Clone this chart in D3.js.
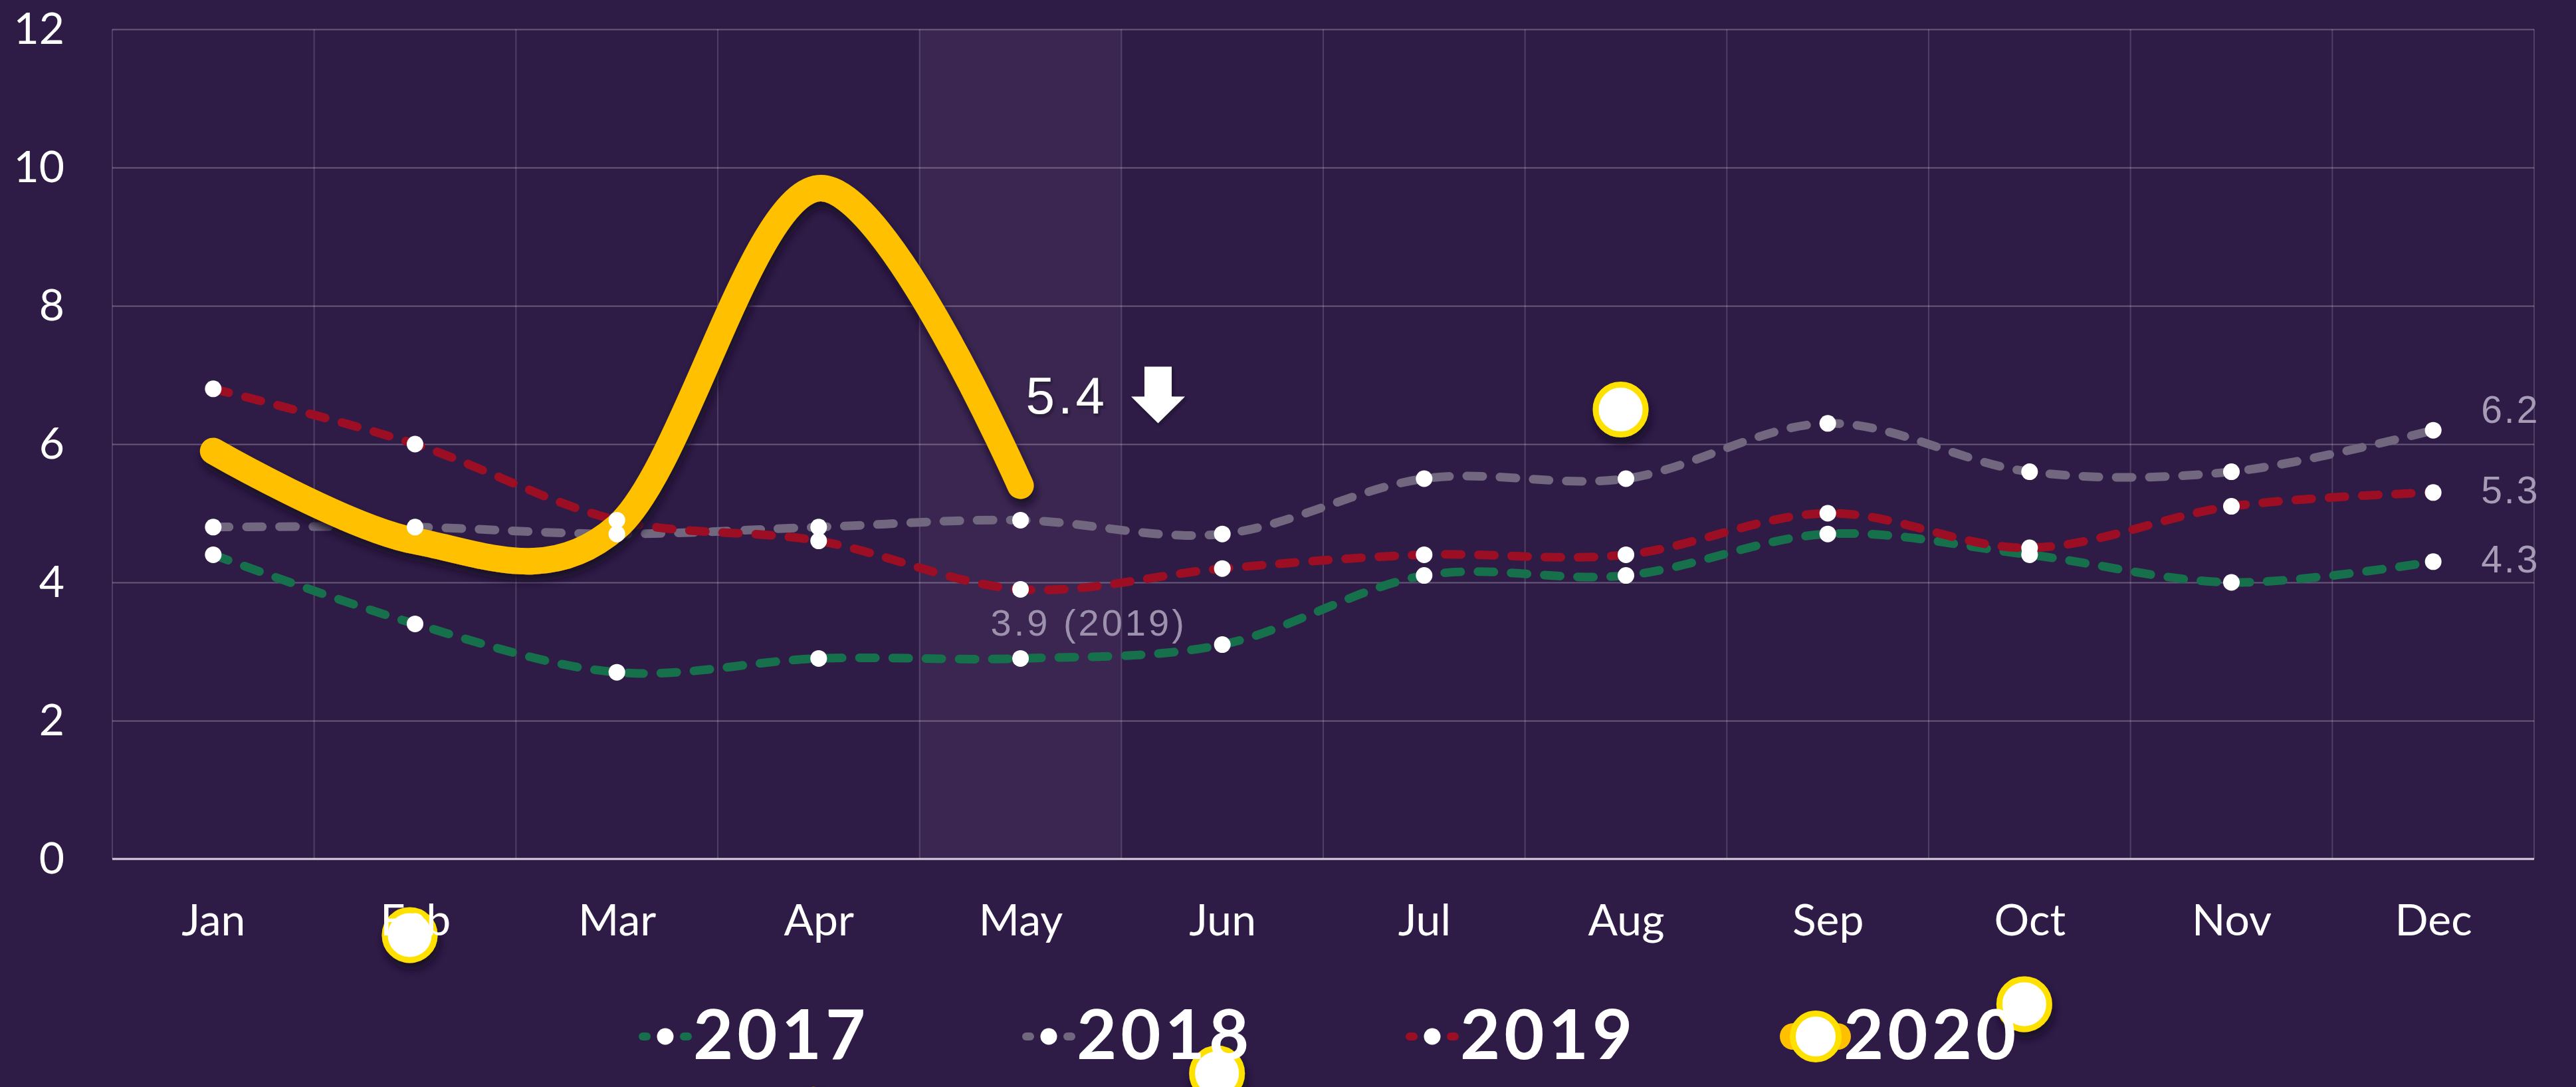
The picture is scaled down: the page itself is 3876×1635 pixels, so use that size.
<!DOCTYPE html>
<html>
<head>
<meta charset="utf-8">
<script src="https://cdn.jsdelivr.net/npm/d3@7"></script>
<style>
  html, body { margin: 0; padding: 0; background: #2e1b46; }
  svg { display: block; }
</style>
</head>
<body>
<div id="chart"></div>
<script>
// chart values
const months = ["Jan", "Feb", "Mar", "Apr", "May", "Jun", "Jul", "Aug", "Sep", "Oct", "Nov", "Dec"];
const yTicks = [0, 2, 4, 6, 8, 10, 12];
const years = ["2017", "2018", "2019", "2020"];

const values2017 = [4.4, 3.4, 2.7, 2.9, 2.9, 3.1, 4.1, 4.1, 4.7, 4.4, 4.0, 4.3];
const values2018 = [4.8, 4.8, 4.7, 4.8, 4.9, 4.7, 5.5, 5.5, 6.3, 5.6, 5.6, 6.2];
const values2019 = [6.8, 6.0, 4.9, 4.6, 3.9, 4.2, 4.4, 4.4, 5.0, 4.5, 5.1, 5.3];
const values2020 = [5.9, 4.6, 4.8, 9.7, 5.4];

// loose 2020 markers
const markerMonths2020 = ["Feb", "Apr", "Jun", "Aug", "Oct"];
const markerValues2020 = [-1.1, -3.7, -3.1, 6.5, -2.1];

const highlightMonth = "May";
const noteValue = 5.4;
const note2019 = 3.9;

const width = 3876;
const height = 1635;
const margin = {top: 44, right: 63, bottom: 343, left: 169};

const colors = {"2017": "#17704c", "2018": "#716880", "2019": "#9c0e24", "2020": "#ffc000"};
const markerStroke = "#ffe100";

const xBand = d3.scaleBand()
  .domain(months)
  .range([margin.left, width - margin.right]);

const x = d3.scalePoint()
  .domain(months)
  .range([margin.left, width - margin.right])
  .padding(0.5);

const y = d3.scaleLinear()
  .domain([0, 12])
  .range([height - margin.bottom, margin.top]);

const svg = d3.select("#chart")
  .append("svg")
  .attr("width", width)
  .attr("height", height);

const defs = svg.append("defs");
const shadow = defs.append("filter")
  .attr("id", "shadow")
  .attr("x", "-50%").attr("y", "-50%")
  .attr("width", "200%").attr("height", "200%");
shadow.append("feDropShadow")
  .attr("dx", 3).attr("dy", 10)
  .attr("stdDeviation", 6)
  .attr("flood-color", "#150a22")
  .attr("flood-opacity", 0.9);

const smallShadow = defs.append("filter")
  .attr("id", "small-shadow")
  .attr("x", "-20%").attr("y", "-20%")
  .attr("width", "140%").attr("height", "140%");
smallShadow.append("feDropShadow")
  .attr("dx", 2).attr("dy", 3)
  .attr("stdDeviation", 2)
  .attr("flood-color", "#150a22")
  .attr("flood-opacity", 0.6);

svg.append("rect")
  .attr("width", width)
  .attr("height", height)
  .attr("fill", "#2e1b46");

// highlighted month
svg.append("rect")
  .attr("x", xBand(highlightMonth))
  .attr("y", y(12))
  .attr("width", xBand.bandwidth())
  .attr("height", y(0) - y(12))
  .attr("fill", "#3a2650");

// horizontal grid
svg.append("g")
  .attr("transform", `translate(${margin.left},0)`)
  .call(d3.axisLeft(y).tickValues(yTicks.filter(d => d > 0)).tickSize(-(width - margin.left - margin.right)).tickFormat(""))
  .call(g => g.select(".domain").remove())
  .call(g => g.selectAll("line").attr("stroke", "rgba(255,255,255,0.28)").attr("stroke-width", 2));

// vertical grid
const vEdges = months.map(m => xBand(m)).concat([xBand.range()[1]]);
svg.append("g")
  .selectAll("line")
  .data(vEdges)
  .join("line")
  .attr("x1", d => d).attr("x2", d => d)
  .attr("y1", y(12)).attr("y2", y(0))
  .attr("stroke", "rgba(255,255,255,0.16)")
  .attr("stroke-width", 2);

// zero line
svg.append("line")
  .attr("x1", margin.left).attr("x2", width - margin.right)
  .attr("y1", y(0)).attr("y2", y(0))
  .attr("stroke", "#d9d2de")
  .attr("stroke-width", 3);

// loose 2020 markers (under the texts)
svg.append("g")
  .selectAll("circle")
  .data(markerMonths2020)
  .join("circle")
  .attr("cx", d => x(d) - 8)
  .attr("cy", (d, i) => y(markerValues2020[i]))
  .attr("r", 37.5)
  .attr("fill", "#fff")
  .attr("stroke", markerStroke)
  .attr("stroke-width", 9)
  .attr("filter", "url(#shadow)");

// y axis labels
svg.append("g")
  .attr("transform", `translate(${margin.left},0)`)
  .call(d3.axisLeft(y).tickValues(yTicks).tickSize(0).tickPadding(72))
  .call(g => g.select(".domain").remove())
  .call(g => g.selectAll("text")
    .attr("fill", "#fff")
    .style("font-family", "Lato, 'Open Sans', sans-serif")
    .style("font-size", "66px"));

// x axis labels
svg.append("g")
  .attr("transform", `translate(0,${y(0)})`)
  .call(d3.axisBottom(x).tickSize(0).tickPadding(68))
  .call(g => g.select(".domain").remove())
  .call(g => g.selectAll("text")
    .attr("fill", "#fff")
    .style("font-family", "Lato, 'Open Sans', sans-serif")
    .style("font-size", "66px"));

const line = d3.line()
  .x((d, i) => x(months[i]))
  .y(d => y(d))
  .curve(d3.curveCardinal.tension(0));

const dashed = [
  {year: "2017", values: values2017},
  {year: "2018", values: values2018},
  {year: "2019", values: values2019}
];

svg.append("g")
  .selectAll("path")
  .data(dashed)
  .join("path")
  .attr("d", d => line(d.values))
  .attr("fill", "none")
  .attr("stroke", d => colors[d.year])
  .attr("stroke-width", 13)
  .attr("stroke-linecap", "round")
  .attr("stroke-dasharray", "24 26");

// 2020 line
svg.append("path")
  .datum(values2020)
  .attr("d", line)
  .attr("fill", "none")
  .attr("stroke", colors["2020"])
  .attr("stroke-width", 40)
  .attr("stroke-linecap", "round")
  .attr("stroke-linejoin", "round")
  .attr("filter", "url(#shadow)");

// white points
dashed.forEach(s => {
  svg.append("g")
    .selectAll("circle")
    .data(s.values)
    .join("circle")
    .attr("cx", (d, i) => x(months[i]))
    .attr("cy", d => y(d))
    .attr("r", 12.5)
    .attr("fill", "#fff");
});

// end labels
const endNudge = {"2017": 16, "2018": -11, "2019": 16};
svg.append("g")
  .selectAll("text")
  .data(dashed)
  .join("text")
  .attr("x", x("Dec") + 72)
  .attr("y", d => y(d.values[d.values.length - 1]) + endNudge[d.year])
  .attr("fill", "#a79cb6")
  .style("font-family", "'Liberation Sans', Arial, sans-serif")
  .style("font-size", "57px")
  .style("letter-spacing", "3px")
  .text(d => d3.format(".1f")(d.values[d.values.length - 1]));

// note: 3.9 (2019)
svg.append("text")
  .attr("x", x("May") - 45)
  .attr("y", y(note2019) + 70)
  .attr("fill", "#9d92ad")
  .style("font-family", "'Liberation Sans', Arial, sans-serif")
  .style("font-size", "56px")
  .style("letter-spacing", "4px")
  .text(`${note2019.toFixed(1)} (2019)`);

// note: 5.4 with arrow
svg.append("text")
  .attr("x", x("May") + 8)
  .attr("y", y(noteValue) - 108)
  .attr("fill", "#fff")
  .attr("filter", "url(#small-shadow)")
  .style("font-family", "'Liberation Sans', Arial, sans-serif")
  .style("font-size", "78px")
  .style("letter-spacing", "5px")
  .text(noteValue.toFixed(1));

const ax = x("May") + 207;
const ay = y(noteValue);
svg.append("path")
  .attr("d", `M${ax - 20.5},${ay - 179} H${ax + 20.5} V${ay - 134} H${ax + 40.5} L${ax},${ay - 94} L${ax - 40.5},${ay - 134} H${ax - 20.5} Z`)
  .attr("fill", "#fff")
  .attr("filter", "url(#small-shadow)");

// legend
const legendX = d3.scalePoint().domain(years).range([1001, 2732]);
const legendY = 1559;
const legend = svg.append("g")
  .selectAll("g")
  .data(years)
  .join("g")
  .attr("transform", d => `translate(${legendX(d)},${legendY})`);

legend.each(function(d) {
  const g = d3.select(this);
  if (d === "2020") {
    g.append("line")
      .attr("x1", -34).attr("x2", 33)
      .attr("stroke", colors[d])
      .attr("stroke-width", 40)
      .attr("stroke-linecap", "round");
    g.append("circle")
      .attr("r", 34.5)
      .attr("fill", "#fff")
      .attr("stroke", markerStroke)
      .attr("stroke-width", 9);
  } else {
    [[-34, -28], [28, 34]].forEach(seg => {
      g.append("line")
        .attr("x1", seg[0]).attr("x2", seg[1])
        .attr("stroke", colors[d])
        .attr("stroke-width", 12)
        .attr("stroke-linecap", "round");
    });
    g.append("circle")
      .attr("r", 12.5)
      .attr("fill", "#fff");
  }
  g.append("text")
    .attr("x", 42)
    .attr("y", 34)
    .attr("fill", "#fff")
    .style("font-family", "Lato, 'Open Sans', sans-serif")
    .style("font-weight", "700")
    .style("font-size", "104px")
    .style("letter-spacing", "6px")
    .text(d);
});
</script>
</body>
</html>
